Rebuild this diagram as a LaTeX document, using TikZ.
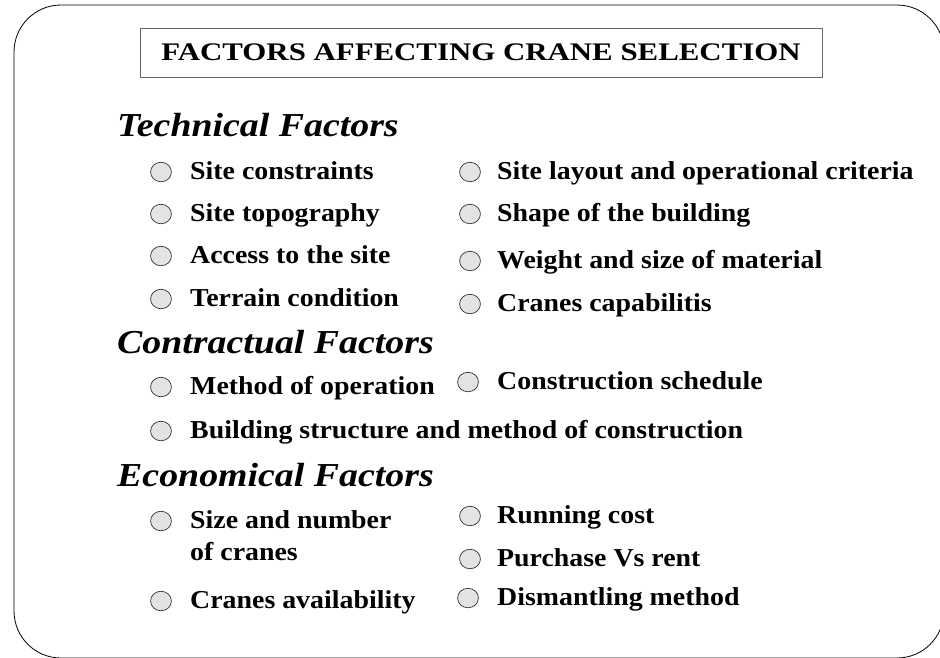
\documentclass[tikz,border=0pt]{standalone}
\usepackage{fontspec}
\setmainfont{Liberation Serif}
\usetikzlibrary{positioning}

\begin{document}
\begin{tikzpicture}[x=1pt,y=-1pt,
  dot/.style={circle,draw=black!80,fill=black!11,line width=0.7pt,minimum size=19.5pt,inner sep=0pt,xscale=1.07},
  item/.style={anchor=base west,inner sep=0pt,xscale=1.08,font=\bfseries\fontsize{25.8}{30}\selectfont},
  head/.style={anchor=base west,inner sep=0pt,xscale=1.13,font=\bfseries\itshape\fontsize{33.5}{40}\selectfont}]
\clip (0,0) rectangle (940,657);
\draw [line width=0.8pt,rounded corners=47pt] (14,5) rectangle (944,658);
\draw [black!60,line width=1pt] (140,28) rectangle (822,77);
\node (title) at (481,60) [anchor=base,inner sep=0pt,xscale=1.22,font=\bfseries\fontsize{25.3}{30}\selectfont] {FACTORS AFFECTING CRANE SELECTION};

\node (tech) at (117,136) [head] {Technical Factors};
\node (t1dot) at (161,172) [dot] {};
\node (t1) at (190,179) [item] {Site constraints};
\node (t2dot) at (161,214) [dot] {};
\node (t2) at (190,221) [item] {Site topography};
\node (t3dot) at (161,256) [dot] {};
\node (t3) at (190,263) [item] {Access to the site};
\node (t4dot) at (161,299) [dot] {};
\node (t4) at (190,306) [item] {Terrain condition};
\node (t5dot) at (470,172) [dot] {};
\node (t5) at (497,179) [item] {Site layout and operational criteria};
\node (t6dot) at (470,214) [dot] {};
\node (t6) at (497,221) [item] {Shape of the building};
\node (t7dot) at (470,261) [dot] {};
\node (t7) at (497,268) [item] {Weight and size of material};
\node (t8dot) at (470,304) [dot] {};
\node (t8) at (497,311) [item] {Cranes capabilitis};

\node (contr) at (117,353) [head] {Contractual Factors};
\node (c1dot) at (161,387) [dot] {};
\node (c1) at (190,394) [item] {Method of operation};
\node (c2dot) at (468,382) [dot] {};
\node (c2) at (497,389) [item] {Construction schedule};
\node (c3dot) at (161,431) [dot] {};
\node (c3) at (190,438) [item] {Building structure and method of construction};

\node (econ) at (117,486) [head] {Economical Factors};
\node (e1dot) at (161,521) [dot] {};
\node (e1) at (190,528) [item] {Size and number};
\node (e1b) at (190,560) [item] {of cranes};
\node (e2dot) at (161,601) [dot] {};
\node (e2) at (190,608) [item] {Cranes availability};
\node (e3dot) at (470,516) [dot] {};
\node (e3) at (497,523) [item] {Running cost};
\node (e4dot) at (470,559) [dot] {};
\node (e4) at (497,566) [item] {Purchase Vs rent};
\node (e5dot) at (468,598) [dot] {};
\node (e5) at (497,605) [item] {Dismantling method};

\end{tikzpicture}
\end{document}
